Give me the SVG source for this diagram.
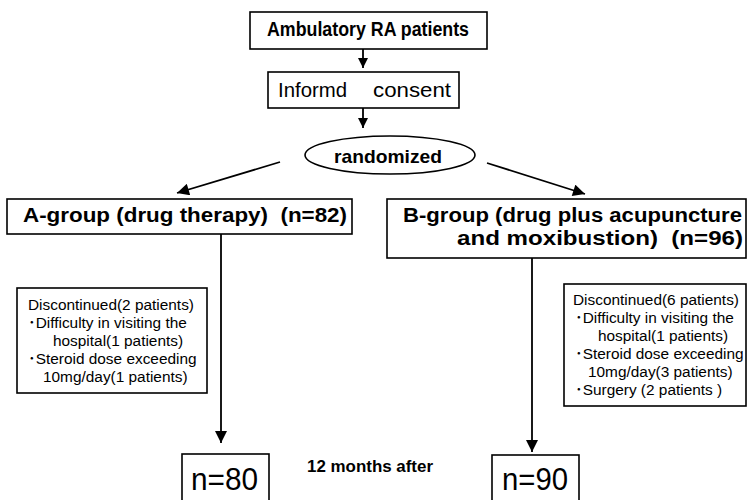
<svg xmlns="http://www.w3.org/2000/svg" width="747" height="500" viewBox="0 0 747 500">
<style>
.box{fill:#fff;stroke:#000;stroke-width:1.6}
.ln{stroke:#000;stroke-width:1.8;fill:none}
.hd{font-family:"Liberation Sans","DejaVu Sans",sans-serif;font-weight:bold;fill:#000;white-space:pre}
.rg{font-family:"Liberation Sans","Noto Sans CJK JP",sans-serif;fill:#000}
.sm{font-family:"Liberation Sans","Noto Sans CJK JP",sans-serif;font-size:15.4px;fill:#000}
</style>
<defs>
<marker id="ah" viewBox="0 0 10 10" refX="10" refY="5" markerWidth="10" markerHeight="10" markerUnits="userSpaceOnUse" orient="auto">
<path d="M0,0 L10,5 L0,10 z" fill="#000"/>
</marker>
<marker id="ah2" viewBox="0 0 10 10" refX="10" refY="5" markerWidth="13" markerHeight="12" orient="auto" markerUnits="userSpaceOnUse">
<path d="M0,0 L10,5 L0,10 z" fill="#000"/>
</marker>
</defs>
<rect width="747" height="500" fill="#fff"/>
<g id="connectors">
<line class="ln" x1="363" y1="49" x2="363" y2="68" marker-end="url(#ah)"/>
<line class="ln" x1="363" y1="108" x2="363" y2="128" marker-end="url(#ah)"/>
<line class="ln" x1="280" y1="162" x2="177" y2="193" marker-end="url(#ah2)"/>
<line class="ln" x1="487" y1="163" x2="585" y2="194" marker-end="url(#ah2)"/>
<line class="ln" x1="221" y1="234" x2="221" y2="443" marker-end="url(#ah2)"/>
<line class="ln" x1="532" y1="258" x2="532" y2="452" marker-end="url(#ah2)"/>
</g>
<g id="ambulatory">
<rect class="box" x="250" y="12" width="237" height="37"/>
<text class="hd" x="267" y="36" font-size="20" textLength="202" lengthAdjust="spacingAndGlyphs">Ambulatory RA patients</text>
</g>
<g id="consent">
<rect class="box" x="268" y="72" width="191" height="36"/>
<text class="rg" y="97" font-size="20"><tspan x="278" textLength="69" lengthAdjust="spacingAndGlyphs">Informd</tspan><tspan x="373" textLength="78" lengthAdjust="spacingAndGlyphs">consent</tspan></text>
</g>
<g id="randomized">
<ellipse class="box" cx="390" cy="155" rx="85" ry="19"/>
<text class="hd" x="334" y="163" font-size="19" textLength="108" lengthAdjust="spacingAndGlyphs">randomized</text>
</g>
<g id="groupA">
<rect class="box" x="7" y="199" width="345" height="35"/>
<text class="hd" x="23" y="222" font-size="20" textLength="324" lengthAdjust="spacingAndGlyphs">A-group (drug therapy)  (n=82)</text>
</g>
<g id="groupB">
<rect class="box" x="387" y="199" width="359" height="59"/>
<text class="hd" x="403" y="222" font-size="20" textLength="339" lengthAdjust="spacingAndGlyphs">B-group (drug plus acupuncture</text>
<text class="hd" x="457" y="245" font-size="20" textLength="286" lengthAdjust="spacingAndGlyphs">and moxibustion)  (n=96)</text>
</g>
<g id="discA">
<rect class="box" x="17" y="288" width="190" height="105"/>
<text class="sm" x="28" y="310">Discontinued(2 patients)</text>
<text class="sm" x="28" y="328">･Difficulty in visiting the</text>
<text class="sm" x="53" y="346">hospital(1 patients)</text>
<text class="sm" x="28" y="364">･Steroid dose exceeding</text>
<text class="sm" x="43" y="382">10mg/day(1 patients)</text>
</g>
<g id="discB">
<rect class="box" x="564" y="284" width="182" height="122"/>
<text class="sm" x="573" y="305">Discontinued(6 patients)</text>
<text class="sm" x="575" y="323">･Difficulty in visiting the</text>
<text class="sm" x="598" y="341">hospital(1 patients)</text>
<text class="sm" x="575" y="359">･Steroid dose exceeding</text>
<text class="sm" x="588" y="377">10mg/day(3 patients)</text>
<text class="sm" x="575" y="395">･Surgery (2 patients )</text>
</g>
<g id="nA">
<rect class="box" x="182" y="454" width="87" height="50"/>
<text class="rg" x="191" y="490" font-size="31" textLength="67" lengthAdjust="spacingAndGlyphs">n=80</text>
</g>
<g id="months">
<text class="rg" x="307" y="472" font-size="16" font-weight="bold" textLength="126" lengthAdjust="spacingAndGlyphs">12 months after</text>
</g>
<g id="nB">
<rect class="box" x="492" y="455" width="87" height="50"/>
<text class="rg" x="502" y="490" font-size="31" textLength="66" lengthAdjust="spacingAndGlyphs">n=90</text>
</g>
</svg>
